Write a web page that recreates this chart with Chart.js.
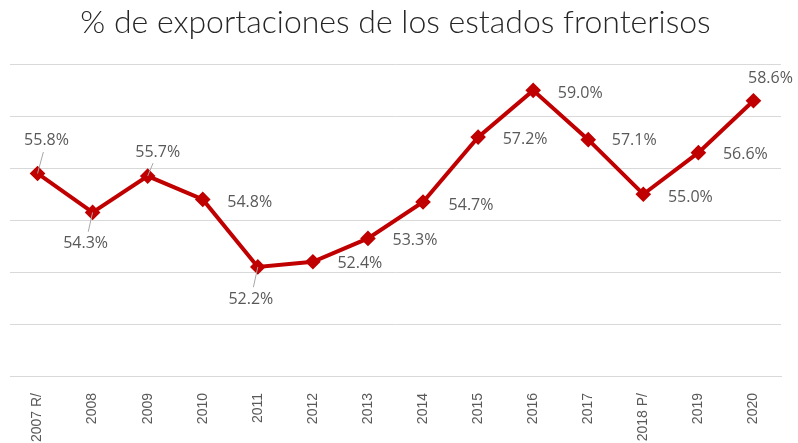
<!DOCTYPE html>
<html>
<head>
<meta charset="utf-8">
<script src="https://cdn.jsdelivr.net/npm/chart.js@4"></script>
<style>
  html, body { margin: 0; padding: 0; background: #fff; }
  #wrap { width: 798px; height: 443px; }
</style>
</head>
<body>
<div id="wrap"><canvas id="chart" width="798" height="443"></canvas></div>
<script>
let years = ['2007 R/', '2008', '2009', '2010', '2011', '2012', '2013', '2014', '2015', '2016', '2017', '2018 P/', '2019', '2020'];
let shares = [55.8, 54.3, 55.7, 54.8, 52.2, 52.4, 53.3, 54.7, 57.2, 59.0, 57.1, 55.0, 56.6, 58.6];

// where each value label sits relative to its point (dx, dy, leader line?)
let labelPos = [
    [9, -33, true], [-7, 31, true], [10, -24, true], [47, 3, false],
    [-7, 32, true], [47, 2, false], [47, 2, false], [48, 3, false],
    [47, 2, false], [47, 3, false], [46, 1, false], [47, 3, false],
    [47, 2, false], [17, -22, false]
];

let valueLabels = {
    id: 'valueLabels',
    afterDatasetsDraw: function (chart) {
        let ctx = chart.ctx;
        let meta = chart.getDatasetMeta(0);
        ctx.save();
        ctx.font = '16px "Open Sans", sans-serif';
        ctx.fillStyle = '#595959';
        ctx.textAlign = 'center';
        ctx.textBaseline = 'middle';
        meta.data.forEach(function (pt, i) {
            let p = labelPos[i];
            let lx = pt.x + p[0];
            let ly = pt.y + p[1];
            if (p[2]) {
                ctx.strokeStyle = '#a6a6a6';
                ctx.lineWidth = 1;
                ctx.beginPath();
                let dx = p[0], dy = p[1];
                let len = Math.sqrt(dx * dx + dy * dy);
                ctx.moveTo(pt.x, pt.y);
                ctx.lineTo(pt.x + dx * (len - 12) / len, pt.y + dy * (len - 12) / len);
                ctx.stroke();
            }
            ctx.fillText(shares[i].toFixed(1) + '%', lx, ly);
        });
        ctx.restore();
    }
};

new Chart(document.getElementById('chart'), {
    type: 'line',
    data: {
        labels: years,
        datasets: [{
            data: shares,
            borderColor: '#c00000',
            backgroundColor: '#c00000',
            borderWidth: 4,
            pointStyle: 'rectRot',
            pointRadius: 5,
            pointHoverRadius: 5,
            tension: 0,
            fill: false
        }]
    },
    options: {
        responsive: false,
        animation: false,
        layout: { padding: { left: 10, right: 17, top: 0, bottom: 0 } },
        plugins: {
            legend: { display: false },
            tooltip: { enabled: false },
            title: {
                display: true,
                text: '% de exportaciones de los estados fronterisos',
                color: '#262626',
                font: { family: 'Lato, sans-serif', size: 32, weight: 300 },
                padding: { top: 3, bottom: 23 }
            }
        },
        scales: {
            x: {
                offset: true,
                grid: { display: false },
                border: { color: '#d9d9d9', width: 1 },
                ticks: {
                    color: '#595959',
                    font: { family: '"Liberation Sans", sans-serif', size: 14 },
                    minRotation: 90,
                    maxRotation: 90,
                    padding: 9
                },
                afterFit: function (scale) {
                    scale.height = 67;
                }
            },
            y: {
                min: 48,
                max: 60,
                ticks: { stepSize: 2, display: false },
                grid: { color: '#d9d9d9', drawTicks: false },
                border: { display: false }
            }
        }
    },
    plugins: [valueLabels]
});
</script>
</body>
</html>
